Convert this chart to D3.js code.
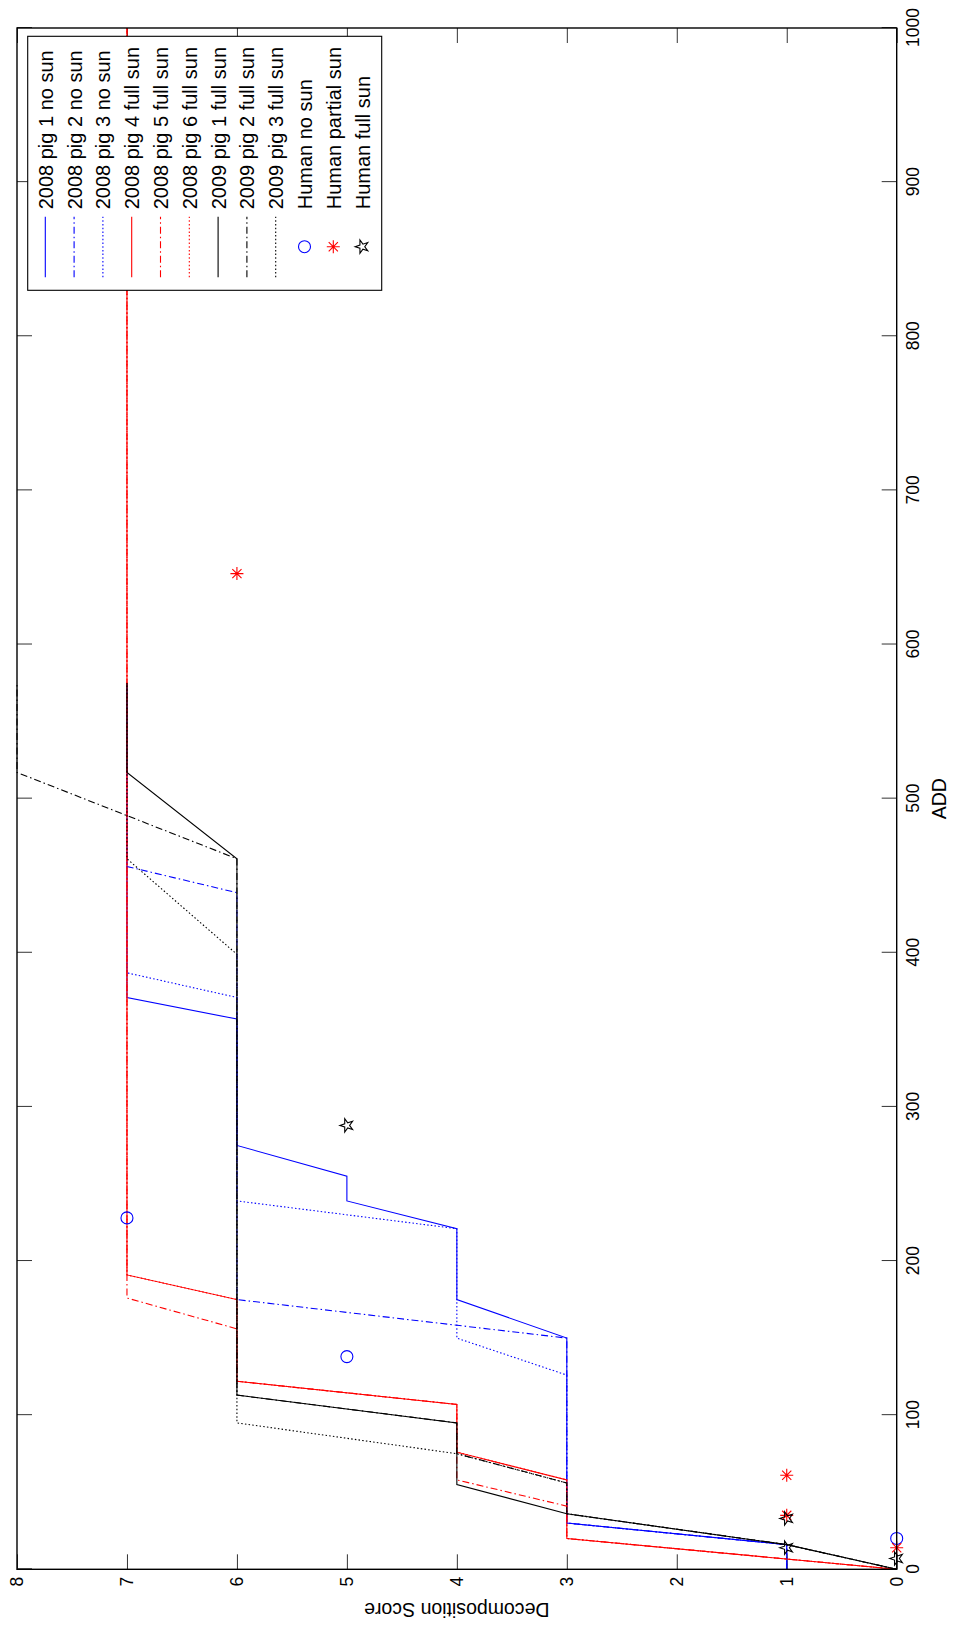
<!DOCTYPE html>
<html>
<head>
<meta charset="utf-8">
<script src="https://cdn.jsdelivr.net/npm/d3@7"></script>
<style>
  html, body { margin: 0; padding: 0; background: #fff; }
  text { font-family: "Liberation Sans", Arial, Helvetica, sans-serif; fill: #000; }
</style>
</head>
<body>
<svg id="chart" width="953" height="1627"></svg>
<script>
// ---------------- data ----------------
const addTicks = [0, 100, 200, 300, 400, 500, 600, 700, 800, 900, 1000];
const scoreTicks = [0, 1, 2, 3, 4, 5, 6, 7, 8];

const pig1_2008_add   = [0, 16, 30, 150, 175, 221, 239, 255, 275, 357, 371, 575];
const pig1_2008_score = [1, 1, 3, 3, 4, 4, 5, 5, 6, 6, 7, 7];
const pig2_2008_add   = [0, 16, 30, 150, 175, 439, 456, 575];
const pig2_2008_score = [1, 1, 3, 3, 6, 6, 7, 7];
const pig3_2008_add   = [0, 16, 30, 126, 150, 221, 239, 371, 387, 575];
const pig3_2008_score = [1, 1, 3, 3, 4, 4, 6, 6, 7, 7];
const pig4_2008_add   = [0, 20, 58, 76, 107, 122, 175, 191, 1000];
const pig4_2008_score = [0, 3, 3, 4, 4, 6, 6, 7, 7];
const pig5_2008_add   = [0, 20, 41, 58, 107, 122, 156, 176, 1000];
const pig5_2008_score = [0, 3, 3, 4, 4, 6, 6, 7, 7];
const pig6_2008_add   = [0, 20, 58, 76, 107, 122, 175, 191, 1000];
const pig6_2008_score = [0, 3, 3, 4, 4, 6, 6, 7, 7];
const pig1_2009_add   = [0, 16, 36, 55, 95, 113, 461, 517, 575];
const pig1_2009_score = [0, 1, 3, 4, 4, 6, 6, 7, 7];
const pig2_2009_add   = [0, 16, 36, 56, 75, 95, 113, 461, 517, 575];
const pig2_2009_score = [0, 1, 3, 3, 4, 4, 6, 6, 8, 8];
const pig3_2009_add   = [0, 16, 36, 56, 75, 95, 399, 461, 575];
const pig3_2009_score = [0, 1, 3, 3, 4, 6, 6, 7, 7];

const humanNoSun_add        = [20, 138, 228];
const humanNoSun_score      = [0, 5, 7];
const humanPartialSun_add   = [14, 35, 61, 646];
const humanPartialSun_score = [0, 1, 1, 6];
const humanFullSun_add      = [7, 14, 33, 288];
const humanFullSun_score    = [0, 1, 1, 5];

const seriesNames = ["2008 pig 1 no sun", "2008 pig 2 no sun", "2008 pig 3 no sun",
  "2008 pig 4 full sun", "2008 pig 5 full sun", "2008 pig 6 full sun",
  "2009 pig 1 full sun", "2009 pig 2 full sun", "2009 pig 3 full sun"];
const markerNames = ["Human no sun", "Human partial sun", "Human full sun"];

// ---------------- layout ----------------
const frameLeft = 17, frameTop = 28, frameRight = 896.7, frameBottom = 1569.3;
const PW = frameBottom - frameTop;   // length of ADD axis (local width)
const PH = frameRight - frameLeft;   // length of score axis (local height)

const DASHDOT = "7,3,1.5,3";
const DOT = "1.5,2.2";

const lineStyles = [
  { c: "#0000ff", d: null }, { c: "#0000ff", d: DASHDOT }, { c: "#0000ff", d: DOT },
  { c: "#ff0000", d: null }, { c: "#ff0000", d: DASHDOT }, { c: "#ff0000", d: DOT },
  { c: "#000000", d: null }, { c: "#000000", d: DASHDOT }, { c: "#000000", d: DOT }
];
const seriesData = [
  [pig1_2008_add, pig1_2008_score], [pig2_2008_add, pig2_2008_score], [pig3_2008_add, pig3_2008_score],
  [pig4_2008_add, pig4_2008_score], [pig5_2008_add, pig5_2008_score], [pig6_2008_add, pig6_2008_score],
  [pig1_2009_add, pig1_2009_score], [pig2_2009_add, pig2_2009_score], [pig3_2009_add, pig3_2009_score]
];

const svg = d3.select("#chart");
svg.append("rect").attr("width", 953).attr("height", 1627).attr("fill", "#fff");

// whole plot is rotated 90° counter-clockwise
const g = svg.append("g").attr("transform", `translate(${frameLeft},${frameBottom}) rotate(-90)`);

const x = d3.scaleLinear().domain([0, 1000]).range([0, PW]);
const y = d3.scaleLinear().domain([0, 8]).range([PH, 0]);

g.append("clipPath").attr("id", "clip").append("rect")
  .attr("x", 0).attr("y", -1).attr("width", PW).attr("height", PH + 2);

// axes
const TICK = 15;
const xAxis = g.append("g").attr("transform", `translate(0,${PH})`)
  .call(d3.axisBottom(x).tickValues(addTicks).tickSize(-TICK).tickPadding(9.4).tickFormat(d3.format("d")));
const xAxisTop = g.append("g")
  .call(d3.axisTop(x).tickValues(addTicks).tickSize(-TICK).tickFormat(""));
const yAxis = g.append("g")
  .call(d3.axisLeft(y).tickValues(scoreTicks).tickSize(-TICK).tickPadding(7.5).tickFormat(d3.format("d")));
const yAxisRight = g.append("g").attr("transform", `translate(${PW},0)`)
  .call(d3.axisRight(y).tickValues(scoreTicks).tickSize(-TICK).tickFormat(""));
[xAxis, xAxisTop, yAxis, yAxisRight].forEach(a => {
  a.select(".domain").remove();
  a.selectAll(".tick line").attr("stroke", "#333").attr("stroke-width", 1);
  a.selectAll(".tick text").attr("font-size", 17.5)
    .attr("font-family", "'Liberation Sans', Arial, sans-serif").attr("fill", "#000");
});

// data lines
const line = d3.line().x(d => x(d[0])).y(d => y(d[1]));
const plot = g.append("g").attr("clip-path", "url(#clip)");
seriesData.forEach((s, i) => {
  plot.append("path")
    .attr("d", line(d3.zip(s[0], s[1])))
    .attr("fill", "none")
    .attr("stroke", lineStyles[i].c)
    .attr("stroke-width", 1.1)
    .attr("stroke-dasharray", lineStyles[i].d);
});

// markers
function asterisk(sel, s) {
  const k = s * 0.7071;
  sel.attr("d", `M${-s},0H${s}M0,${-s}V${s}M${-k},${-k}L${k},${k}M${-k},${k}L${k},${-k}`);
}
const markerG = g.append("g");
markerG.selectAll("circle.ns").data(d3.zip(humanNoSun_add, humanNoSun_score)).join("circle")
  .attr("cx", d => x(d[0])).attr("cy", d => y(d[1])).attr("r", 6)
  .attr("fill", "none").attr("stroke", "#0000ff").attr("stroke-width", 1.1);
markerG.selectAll("path.ps").data(d3.zip(humanPartialSun_add, humanPartialSun_score)).join("path")
  .attr("class", "ps")
  .attr("transform", d => `translate(${x(d[0])},${y(d[1])})`)
  .call(asterisk, 6.5)
  .attr("fill", "none").attr("stroke", "#ff0000").attr("stroke-width", 1.1);
const starPath = d3.symbol(d3.symbolStar, 55)();
markerG.selectAll("path.fs").data(d3.zip(humanFullSun_add, humanFullSun_score)).join("path")
  .attr("class", "fs")
  .attr("transform", d => `translate(${x(d[0])},${y(d[1])})`)
  .attr("d", starPath)
  .attr("fill", "none").attr("stroke", "#000").attr("stroke-width", 1.1);

// frame
g.append("rect").attr("x", 0).attr("y", 0).attr("width", PW).attr("height", PH)
  .attr("fill", "none").attr("stroke", "#000").attr("stroke-width", 1.4);

// axis labels
g.append("text").attr("x", x(500)).attr("y", PH + 49.5)
  .attr("text-anchor", "middle").attr("font-size", 19.5).text("ADD");
g.append("text").attr("transform", `translate(-33.7,${PH / 2}) rotate(-90)`)
  .attr("text-anchor", "middle").attr("font-size", 19.5).text("Decomposition Score");

// legend
const LX = 1279, LY = 10.7, LW = 254, LH = 354;
const lg = g.append("g");
lg.append("rect").attr("x", LX).attr("y", LY).attr("width", LW).attr("height", LH)
  .attr("fill", "#fff").attr("stroke", "#000").attr("stroke-width", 1.1);
const rowY = i => 28.3 + i * 28.8;
seriesNames.forEach((name, i) => {
  lg.append("line").attr("x1", 1292).attr("x2", 1352.6).attr("y1", rowY(i)).attr("y2", rowY(i))
    .attr("stroke", lineStyles[i].c).attr("stroke-width", 1.1)
    .attr("stroke-dasharray", lineStyles[i].d);
  lg.append("text").attr("x", 1360).attr("y", rowY(i) + 7.5).attr("font-size", 20).text(name);
});
markerNames.forEach((name, j) => {
  const i = j + 9, cy = rowY(i), cx = 1322.6;
  if (j === 0) {
    lg.append("circle").attr("cx", cx).attr("cy", cy).attr("r", 6)
      .attr("fill", "none").attr("stroke", "#0000ff").attr("stroke-width", 1.1);
  } else if (j === 1) {
    lg.append("path").attr("transform", `translate(${cx},${cy})`).call(asterisk, 6.5)
      .attr("fill", "none").attr("stroke", "#ff0000").attr("stroke-width", 1.1);
  } else {
    lg.append("path").attr("transform", `translate(${cx},${cy})`).attr("d", starPath)
      .attr("fill", "none").attr("stroke", "#000").attr("stroke-width", 1.1);
  }
  lg.append("text").attr("x", 1360).attr("y", cy + 7.5).attr("font-size", 20).text(name);
});
</script>
</body>
</html>
